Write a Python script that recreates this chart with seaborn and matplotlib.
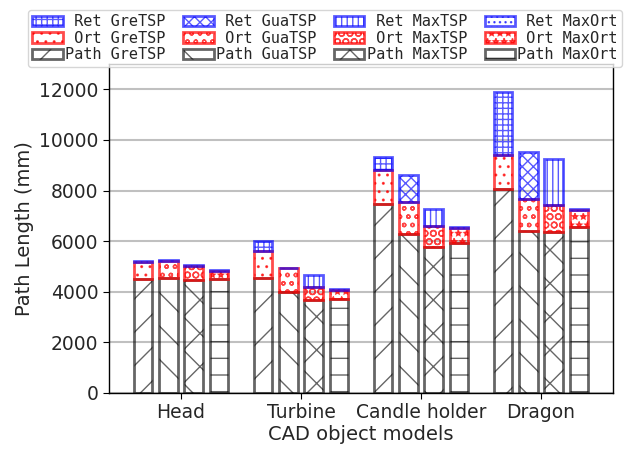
import numpy as np
import matplotlib
matplotlib.use("Agg")
import matplotlib.pyplot as plt
import seaborn as sns

models = ["Head", "Turbine", "Candle holder", "Dragon"]
methods = ["GreTSP", "GuaTSP", "MaxTSP", "MaxOrt"]

path_len = {
    "GreTSP": [4490, 4560, 7450, 8050],
    "GuaTSP": [4530, 4000, 6280, 6390],
    "MaxTSP": [4460, 3670, 5780, 6370],
    "MaxOrt": [4500, 3710, 5910, 6570],
}
ort_len = {
    "GreTSP": [670, 1070, 1350, 1370],
    "GuaTSP": [680, 920, 1250, 1270],
    "MaxTSP": [550, 500, 820, 1040],
    "MaxOrt": [330, 360, 620, 680],
}
ret_len = {
    "GreTSP": [40, 370, 530, 2460],
    "GuaTSP": [40, 30, 1100, 1860],
    "MaxTSP": [40, 510, 680, 1840],
    "MaxOrt": [40, 35, 20, 40],
}

path_hatch = {"GreTSP": "/", "GuaTSP": "\\", "MaxTSP": "x", "MaxOrt": "-"}
ort_hatch = {"GreTSP": "..", "GuaTSP": "oo", "MaxTSP": "OO", "MaxOrt": "**"}
ret_hatch = {"GreTSP": "+++", "GuaTSP": "xxx", "MaxTSP": "|||", "MaxOrt": "..."}

sns.set_style("ticks")
plt.rcParams["font.family"] = ["DejaVu Sans"]
plt.rcParams["hatch.linewidth"] = 1.0

fig = plt.figure(figsize=(6.29, 4.49), dpi=100)
ax = fig.add_axes([109 / 629, 1 - 393 / 449, 504 / 629, (393 - 64) / 449])

gray = (0, 0, 0, 0.6)
red = (1, 0, 0, 0.7)
blue = (0, 0, 1, 0.65)

x = np.arange(len(models))
step = 0.21
width = 0.152
handles = {}
for i, m in enumerate(methods):
    xs = x + (i - 1.5) * step
    p = np.array(path_len[m])
    o = np.array(ort_len[m])
    r = np.array(ret_len[m])
    hp = ax.bar(xs, p, width, fill=False, edgecolor=gray, linewidth=2, hatch=path_hatch[m],
                label="Path " + m, zorder=3)
    ho = ax.bar(xs, o, width, bottom=p, fill=False, edgecolor=red, linewidth=2,
                hatch=ort_hatch[m], label=" Ort " + m, zorder=3)
    hr = ax.bar(xs, r, width, bottom=p + o, fill=False, edgecolor=blue, linewidth=2,
                hatch=ret_hatch[m], label=" Ret " + m, zorder=3)
    handles[m] = (hr, ho, hp)

ax.set_xlim(-0.6, 3.6)
ax.set_ylim(0, 13000)
ax.set_yticks(np.arange(0, 12001, 2000))
ax.set_xticks(x)
ax.set_xticklabels(models)
ax.tick_params(labelsize=13.5, length=4, color="black")
ax.yaxis.grid(True, color="#c0c0c0", linewidth=1.5, zorder=0)
ax.set_axisbelow(True)
for s in ax.spines.values():
    s.set_color("black")
    s.set_linewidth(1.0)
ax.set_ylabel("Path Length (mm)", fontsize=14)
ax.set_xlabel("CAD object models", fontsize=14, labelpad=2)

hl, ll = [], []
for m in methods:
    for h in handles[m]:
        hl.append(h)
        ll.append(h.get_label())
leg = fig.legend(hl, ll, loc="upper center", bbox_to_anchor=(325 / 629, 1 - 2 / 449),
                 ncol=4, prop={"family": "DejaVu Sans Mono", "size": 11},
                 handletextpad=0.15, columnspacing=1.15, labelspacing=0.1,
                 borderpad=0.3, handlelength=2.0, frameon=True, fancybox=True)
leg.get_frame().set_edgecolor("#cccccc")

fig.savefig("out.png", dpi=100)
